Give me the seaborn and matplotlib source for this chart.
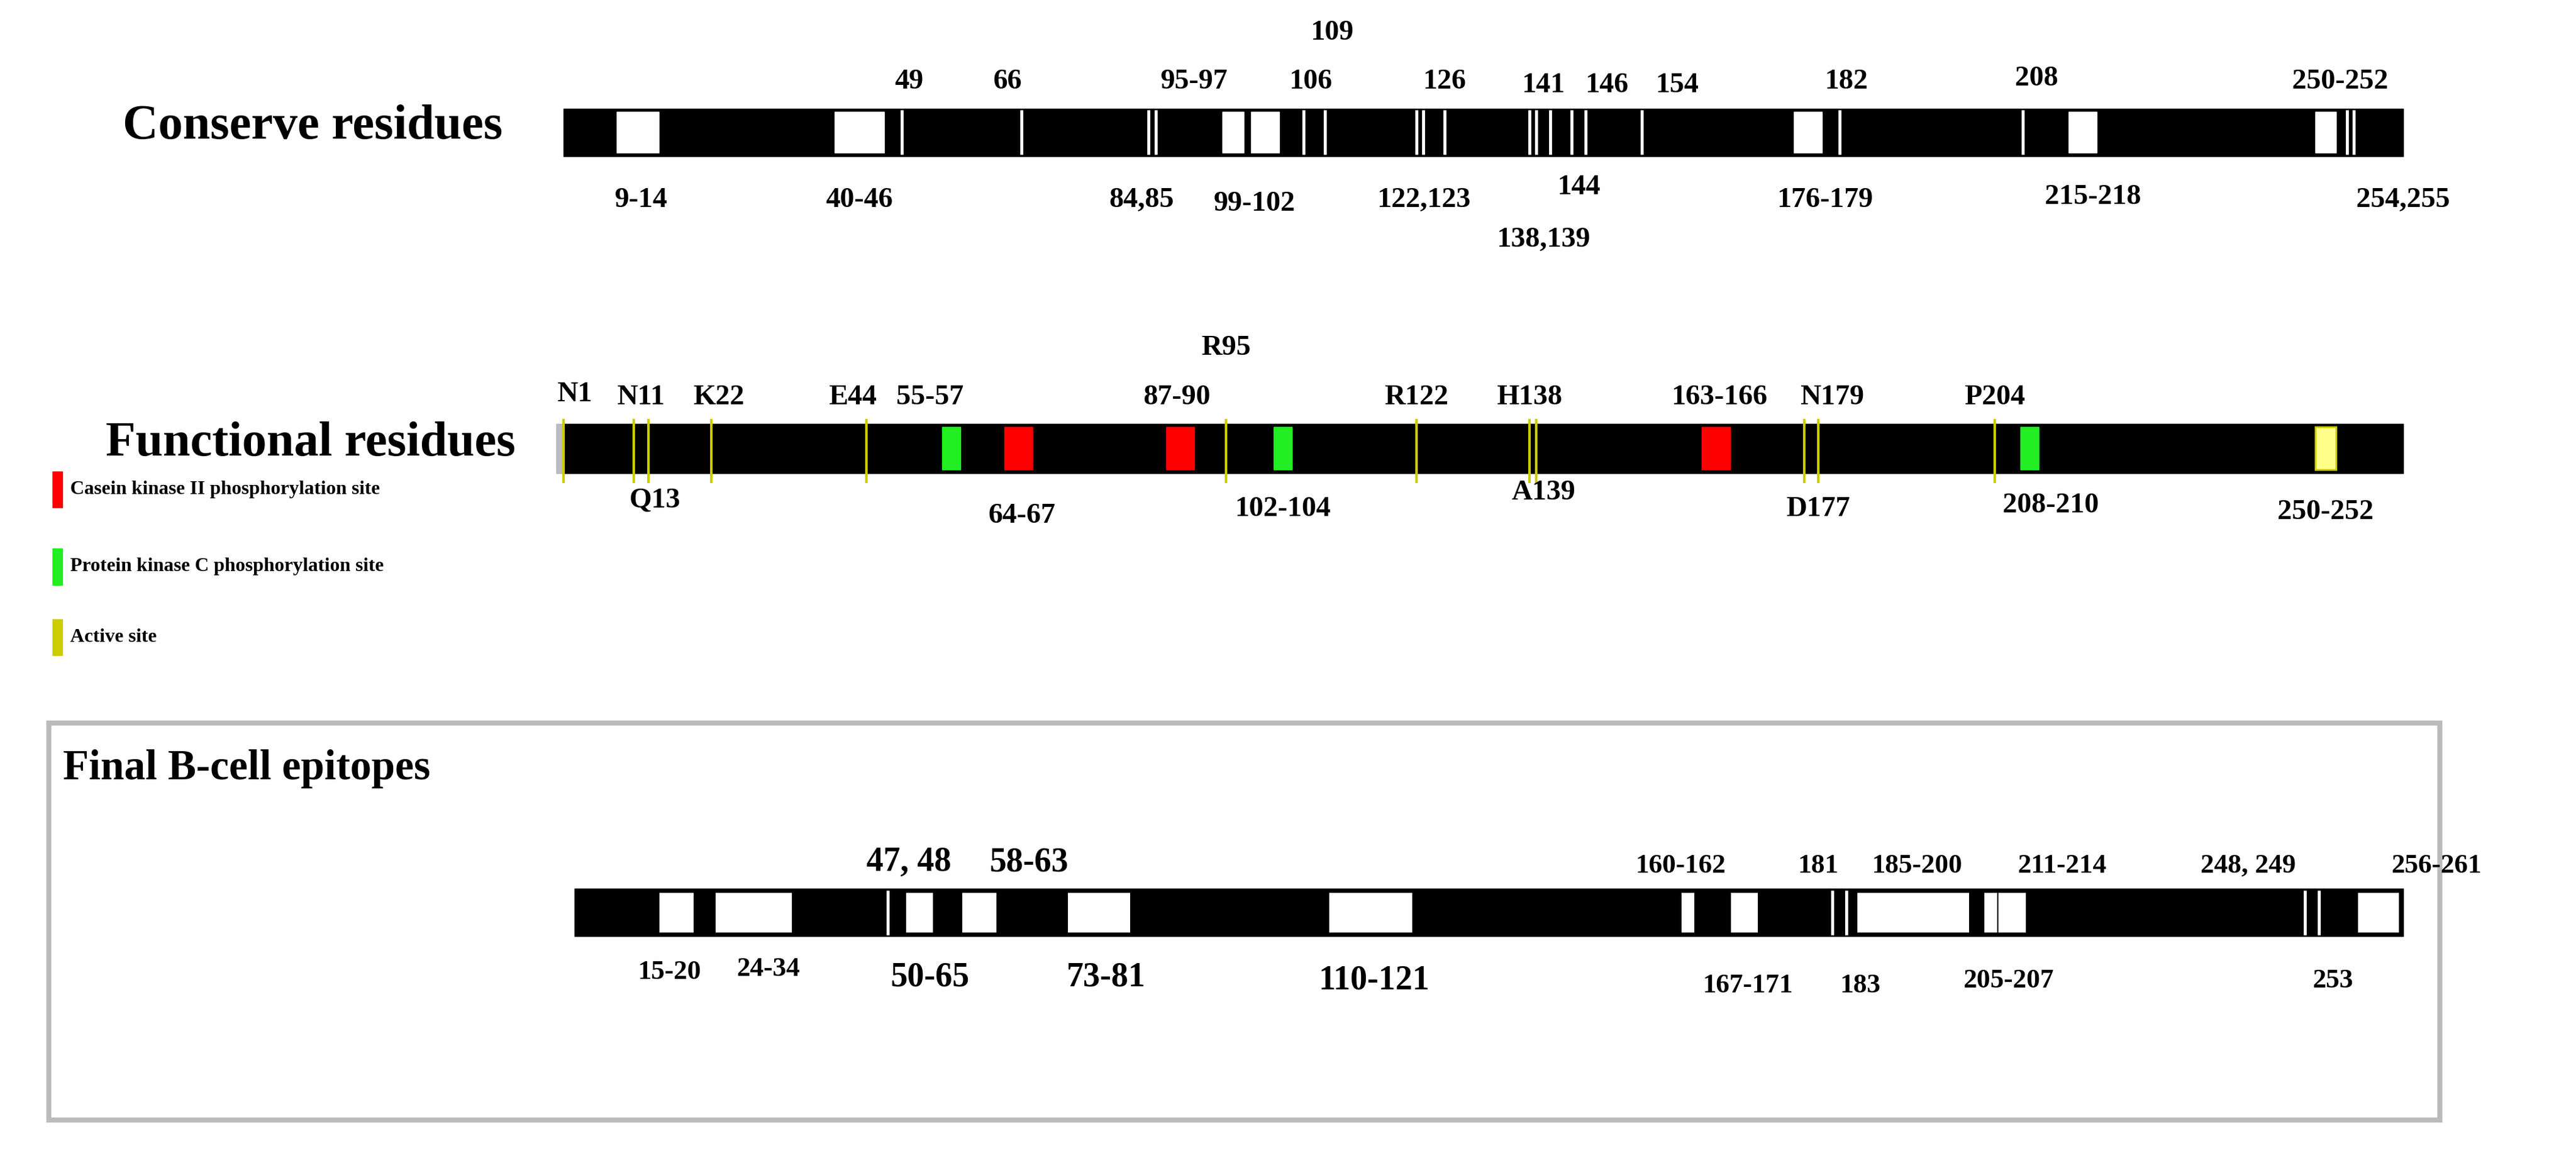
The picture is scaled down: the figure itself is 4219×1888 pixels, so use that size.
import matplotlib
matplotlib.use("Agg")
import matplotlib.pyplot as plt
from matplotlib.patches import Rectangle
import seaborn as sns

sns.set_style("white")
plt.rcParams['font.family'] = ['Liberation Serif', 'DejaVu Serif']
plt.rcParams['text.color'] = 'black'

# ---------------- data ----------------
conserved_ranges = [(9, 14), (40, 46), (95, 97), (99, 102), (176, 179), (215, 218), (250, 252)]
conserved_single = [49, 66, 84, 85, 106, 109, 122, 123, 126, 138, 139, 141, 144, 146, 154, 182, 208, 254, 255]
conserved_labels_above = [("49", 50, 50), ("66", 64, 50), ("95-97", 90.5, 50), ("106", 107, 50), ("109", 110, 20),
                          ("126", 126, 50), ("141", 140, 52), ("146", 149, 52), ("154", 159, 52), ("182", 183, 50),
                          ("208", 210, 48), ("250-252", 253, 50)]
conserved_labels_below = [("9-14", 12, 122), ("40-46", 43, 122), ("84,85", 83, 122), ("99-102", 99, 124),
                          ("122,123", 123, 122), ("144", 145, 114), ("138,139", 140, 146), ("176-179", 180, 122),
                          ("215-218", 218, 120), ("254,255", 262, 122)]

active_sites = [1, 11, 13, 22, 44, 95, 122, 138, 139, 177, 179, 204]
active_box = [(250, 252)]
ck2_sites = [(64, 67), (87, 90), (163, 166)]
pkc_sites = [(55, 57), (102, 104), (208, 210)]
func_labels_above = [("N1", 2.6, 240), ("N11", 12, 242), ("K22", 23, 242), ("E44", 42, 242), ("55-57", 53, 242),
                     ("R95", 95, 212), ("87-90", 88, 242), ("R122", 122, 242), ("H138", 138, 242),
                     ("163-166", 165, 242), ("N179", 181, 242), ("P204", 204, 242)]
func_labels_below = [("Q13", 14, 305), ("64-67", 66, 314), ("102-104", 103, 310), ("A139", 140, 300),
                     ("D177", 179, 310), ("208-210", 212, 308), ("250-252", 251, 312)]
legend_items = [("Casein kinase II phosphorylation site", "#ff0000", 298),
                ("Protein kinase C phosphorylation site", "#22ee22", 345),
                ("Active site", "#cccc00", 388)]

epitope_ranges = [(15, 19), (23, 33), (50, 53), (58, 62), (73, 81), (110, 121), (160, 161),
                  (167, 170), (185, 200), (203, 204), (205, 208), (256, 261)]
epitope_single = [47, 181, 183, 248, 250]
bcell_labels_above = [("47, 48", 50, 525, 40), ("58-63", 67, 525, 40), ("160-162", 159.5, 527, 32),
                      ("181", 179, 527, 32), ("185-200", 193, 527, 32), ("211-214", 213.6, 527, 32),
                      ("248, 249", 240, 527, 32), ("256-261", 266.7, 527, 32)]
bcell_labels_below = [("15-20", 16, 592, 32), ("24-34", 30, 590, 32), ("50-65", 53, 595, 40),
                      ("73-81", 78, 595, 40), ("110-121", 116, 597, 40), ("167-171", 169, 600, 32),
                      ("183", 185, 600, 32), ("205-207", 206, 597, 32), ("253", 252, 597, 32)]

# ---------------- figure ----------------
fig = plt.figure(figsize=(42.19, 18.88), dpi=100)
ax = fig.add_axes([0, 0, 1, 1])
ax.set_xlim(-78.95, 286.5)
ax.set_ylim(701.9, 0)
ax.axis("off")

FS = 34
def bar(y0, y1, x0=1, x1=262):
    ax.add_patch(Rectangle((x0, y0), x1 - x0, y1 - y0, color="black", zorder=1))

def txt(s, x, y, fs=FS, ha="center"):
    ax.text(x, y, s, fontsize=fs, fontweight="bold", ha=ha, va="center", color="black")

# Conserved
bar(66, 95)
for a, b in conserved_ranges:
    ax.add_patch(Rectangle((a - 0.5, 68), b - a + 1, 25, color="white", zorder=2))
ax.vlines(conserved_single, 67, 94, color="white", lw=3.5, zorder=2)
for s, x, y in conserved_labels_above + conserved_labels_below:
    txt(s, x, y)
txt("Conserve residues", -61.5, 77, fs=58, ha="left")

# Functional
bar(258, 288)
ax.add_patch(Rectangle((0, 258), 0.8, 30, color="#bbbbbb", zorder=2))
ax.vlines(active_sites, 255, 294, color="#cccc00", lw=3, zorder=3)
for a, b in active_box:
    ax.add_patch(Rectangle((a - 0.5, 260), b - a + 1, 26, facecolor="#ffff88", edgecolor="#cccc00", lw=2, zorder=3))
for a, b in ck2_sites:
    ax.add_patch(Rectangle((a - 0.5, 260), b - a + 1, 26, color="#ff0000", zorder=3))
for a, b in pkc_sites:
    ax.add_patch(Rectangle((a - 0.3, 260), b - a + 0.6, 26, color="#22ee22", zorder=3))
for s, x, y in func_labels_above + func_labels_below:
    txt(s, x, y)
txt("Functional residues", -64, 270, fs=58, ha="left")
for s, c, y in legend_items:
    ax.add_patch(Rectangle((-71.5, y - 11), 1.4, 22, color=c))
    txt(s, -69, y, fs=23, ha="left")

# B-cell epitopes
ax.add_patch(Rectangle((-72, 440), 339.2, 242, fill=False, edgecolor="#bbbbbb", lw=6))
txt("Final B-cell epitopes", -70, 468, fs=50, ha="left")
bar(541, 570, x0=2.6)
for a, b in epitope_ranges:
    ax.add_patch(Rectangle((a - 0.5, 543), b - a + 1, 25, facecolor="white", edgecolor="black", lw=1.5, zorder=2))
ax.vlines(epitope_single, 542, 569, color="white", lw=3.5, zorder=2)
for s, x, y, fs in bcell_labels_above + bcell_labels_below:
    txt(s, x, y, fs=fs)

fig.savefig("out.png", dpi=100)
